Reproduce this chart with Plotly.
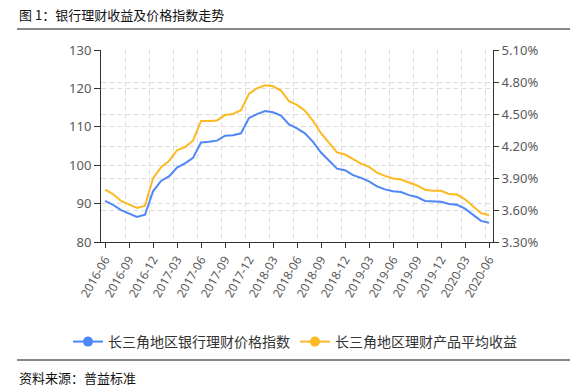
import pandas as pd
import plotly.graph_objects as go

# ---- data ----
months = [p.strftime("%Y-%m") for p in pd.period_range("2016-06", "2020-06", freq="M")]

price_index = [90.7, 89.7, 88.3, 87.4, 86.5, 87.1, 93.2, 95.9, 97.1, 99.4,
               100.5, 101.9, 105.9, 106.1, 106.4, 107.7, 107.8, 108.3, 112.3, 113.3,
               114.1, 113.8, 112.9, 110.6, 109.6, 108.3, 106.1, 103.3, 101.3, 99.1,
               98.7, 97.4, 96.7, 95.8, 94.5, 93.7, 93.2, 93.0, 92.2, 91.7,
               90.7, 90.6, 90.5, 89.9, 89.7, 88.7, 87.0, 85.5, 85.0]

avg_yield = [3.79, 3.75, 3.685, 3.655, 3.62, 3.64, 3.895, 4.00, 4.06, 4.16,
             4.19, 4.25, 4.435, 4.435, 4.44, 4.49, 4.50, 4.535, 4.69, 4.74,
             4.77, 4.76, 4.72, 4.62, 4.585, 4.53, 4.435, 4.32, 4.235, 4.14,
             4.12, 4.075, 4.035, 4.005, 3.95, 3.92, 3.895, 3.885, 3.855, 3.83,
             3.79, 3.78, 3.78, 3.75, 3.745, 3.70, 3.635, 3.57, 3.55]

series_names = ["长三角地区银行理财价格指数", "长三角地区理财产品平均收益"]
left_ticks = [80, 90, 100, 110, 120, 130]
right_ticks = [3.30, 3.60, 3.90, 4.20, 4.50, 4.80, 5.10]
right_tick_labels = [f"{v:.2f}%" for v in right_ticks]

title_text = "图 1：银行理财收益及价格指数走势"
source_text = "资料来源：普益标准"

# ---- styling ----
BLUE = "#4f86f7"
YELLOW = "#fcb924"
GRID = "#dcdcdc"
AXIS = "#333333"
TICKFONT = dict(family="Noto Sans, Noto Sans CJK SC", size=12, color="#595959")
CJK = "Noto Sans CJK SC"

x_idx = list(range(len(months)))
tick_idx = x_idx[::3]
tick_labels = [months[i] for i in tick_idx]
band_edges = [i - 0.5 for i in tick_idx]

fig = go.Figure()
fig.add_trace(go.Scatter(x=x_idx, y=price_index, mode="lines", name=series_names[0],
                         line=dict(color=BLUE, width=2), showlegend=False, yaxis="y"))
fig.add_trace(go.Scatter(x=x_idx, y=avg_yield, mode="lines", name=series_names[1],
                         line=dict(color=YELLOW, width=2), showlegend=False, yaxis="y2"))
# legend entries (line + circle)
fig.add_trace(go.Scatter(x=[None], y=[None], mode="lines+markers", name=series_names[0],
                         line=dict(color=BLUE, width=2), marker=dict(size=10, color=BLUE)))
fig.add_trace(go.Scatter(x=[None], y=[None], mode="lines+markers", name=series_names[1],
                         line=dict(color=YELLOW, width=2), marker=dict(size=10, color=YELLOW),
                         yaxis="y2"))

L, R, T, B = 101, 92, 50, 146
W, H = 585, 388
pw, ph = W - L - R, H - T - B

def px(x):
    return (x - L) / pw

def py(y):
    return (H - B - y) / ph

fig.update_layout(
    width=W, height=H,
    margin=dict(l=L, r=R, t=T, b=B, autoexpand=False),
    paper_bgcolor="white", plot_bgcolor="white",
    font=dict(family=CJK, color="#333"),
    xaxis=dict(
        range=[-0.5, len(months) - 0.5],
        tickmode="array", tickvals=tick_idx, ticktext=tick_labels,
        tickangle=-60, tickfont=TICKFONT,
        showline=True, linecolor=AXIS, linewidth=1,
        ticks="outside", ticklen=5, tickcolor=AXIS,
        showgrid=False, zeroline=False,
        minor=dict(tickmode="array", tickvals=band_edges, showgrid=True,
                   gridcolor=GRID, griddash="5px,3px", gridwidth=1, ticks=""),
    ),
    yaxis=dict(
        range=[80, 130], tickmode="array", tickvals=left_ticks,
        tickfont=dict(TICKFONT, size=13),
        showline=True, linecolor=AXIS, linewidth=1,
        ticks="outside", ticklen=6, tickcolor=AXIS,
        showgrid=True, gridcolor=GRID, griddash="5px,3px", zeroline=False,
    ),
    yaxis2=dict(
        range=[3.3, 5.1], overlaying="y", side="right",
        tickmode="array", tickvals=right_ticks, ticktext=right_tick_labels,
        tickfont=dict(TICKFONT, size=13),
        showline=True, linecolor=AXIS, linewidth=1,
        ticks="outside", ticklen=5, tickcolor=AXIS,
        showgrid=True, gridcolor=GRID, griddash="5px,3px", zeroline=False,
    ),
    legend=dict(orientation="h", x=px(68), xanchor="left", y=py(342), yanchor="middle",
                font=dict(family=CJK, size=14, color="#333"), itemwidth=30,
                bgcolor="rgba(0,0,0,0)"),
    showlegend=True,
    annotations=[
        dict(text=title_text, xref="paper", yref="paper", x=px(17), y=py(14),
             xanchor="left", yanchor="middle", showarrow=False,
             font=dict(family=CJK, size=13, color="#111")),
        dict(text=source_text, xref="paper", yref="paper", x=px(17), y=py(377),
             xanchor="left", yanchor="middle", showarrow=False,
             font=dict(family=CJK, size=13, color="#111")),
    ],
    shapes=[
        dict(type="line", xref="paper", yref="paper", x0=px(17), x1=px(570),
             y0=py(29), y1=py(29), line=dict(color="#111", width=1)),
        dict(type="line", xref="paper", yref="paper", x0=px(17), x1=px(570),
             y0=py(360), y1=py(360), line=dict(color="#111", width=1)),
    ],
)

fig.write_html("out.html", config={"displayModeBar": False},
               post_script="document.body.style.margin='0';document.body.style.padding='0';")
